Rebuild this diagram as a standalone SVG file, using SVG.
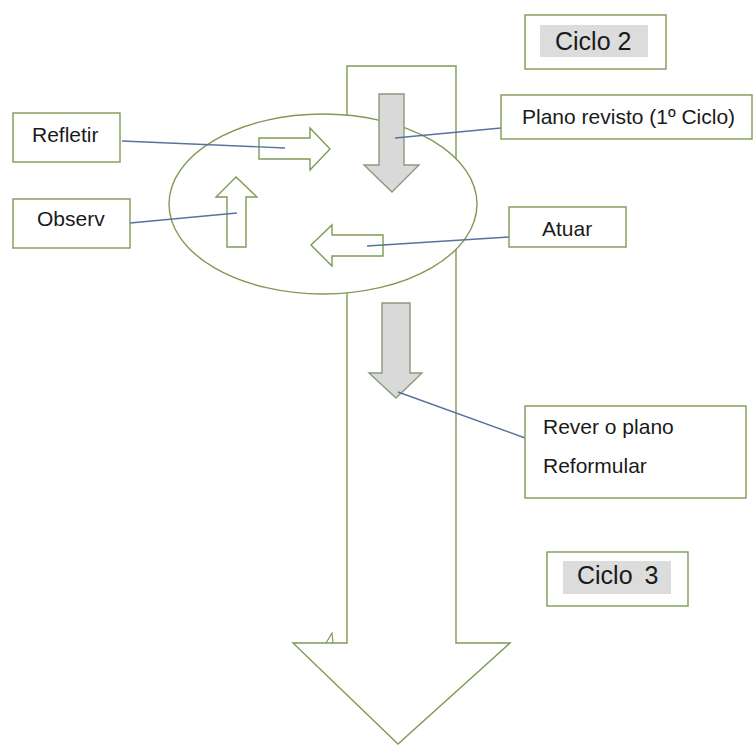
<svg xmlns="http://www.w3.org/2000/svg" width="753" height="745" viewBox="0 0 753 745">
<style>
.g{fill:#fff;stroke:#7f9a55;stroke-width:1.4}
.gr{fill:#d9d9d9;stroke:#8a9a7a;stroke-width:1.4}
.c{fill:none;stroke:#5673a0;stroke-width:1.4}
.t{font-family:"Liberation Sans",Arial,sans-serif;font-size:21px;fill:#1a1a1a}
.tc{font-family:"Liberation Sans",Arial,sans-serif;font-size:25px;fill:#1a1a1a}
.hl{fill:#dcdcdc}
</style>
<rect width="753" height="745" fill="#fff"/>
<g id="big-arrow">
<polygon class="g" points="347,66 456,66 456,643 510,643 398,744 293,643 347,643"/>
<path d="M326,643 L332,633 L333,643" fill="none" stroke="#7f9a55" stroke-width="1.2"/>
</g>
<g id="cycle">
<ellipse class="g" cx="323" cy="204" rx="154" ry="90"/>
</g>
<g id="arrow-refletir">
<polygon class="g" points="259,138 310,138 310,128 330,149 310,170 310,159 259,159"/>
</g>
<g id="arrow-observ">
<polygon class="g" points="227,247 227,197 216,197 236,177 257,197 246,197 246,247"/>
</g>
<g id="arrow-atuar">
<polygon class="g" points="383,235 332,235 332,225 311,245 332,266 332,256 383,256"/>
</g>
<g id="arrow-plano">
<polygon class="gr" points="379,94 404,94 404,165 419,165 392,192 364,165 379,165"/>
</g>
<g id="arrow-rever">
<polygon class="gr" points="382,303 410,303 410,373 422,373 396,398 369,373 382,373"/>
</g>
<g id="connectors">
<line class="c" x1="122" y1="141" x2="285" y2="148"/>
<line class="c" x1="130" y1="223" x2="237" y2="213"/>
<line class="c" x1="395" y1="138" x2="501" y2="128"/>
<line class="c" x1="367" y1="246" x2="509" y2="237"/>
<line class="c" x1="398" y1="392" x2="525" y2="438"/>
</g>
<g id="refletir">
<rect class="g" x="13" y="113" width="107" height="49"/>
<text class="t" x="32" y="142">Refletir</text>
</g>
<g id="observ">
<rect class="g" x="13" y="199" width="117" height="49"/>
<text class="t" x="37" y="226">Observ</text>
</g>
<g id="ciclo2">
<rect class="g" x="525" y="15" width="141" height="54"/>
<rect class="hl" x="540" y="25" width="108" height="32"/>
<text class="tc" x="555" y="50">Ciclo 2</text>
</g>
<g id="plano">
<rect class="g" x="501" y="95" width="251" height="44"/>
<text class="t" x="522" y="124">Plano revisto (1º Ciclo)</text>
</g>
<g id="atuar">
<rect class="g" x="509" y="207" width="117" height="40"/>
<text class="t" x="542" y="236">Atuar</text>
</g>
<g id="rever">
<rect class="g" x="525" y="406" width="221" height="92"/>
<text class="t" x="543" y="434">Rever o plano</text>
<text class="t" x="543" y="473">Reformular</text>
</g>
<g id="ciclo3">
<rect class="g" x="547" y="552" width="141" height="54"/>
<rect class="hl" x="563" y="561" width="108" height="33"/>
<text class="tc" x="577" y="584" word-spacing="5">Ciclo 3</text>
</g>
</svg>
